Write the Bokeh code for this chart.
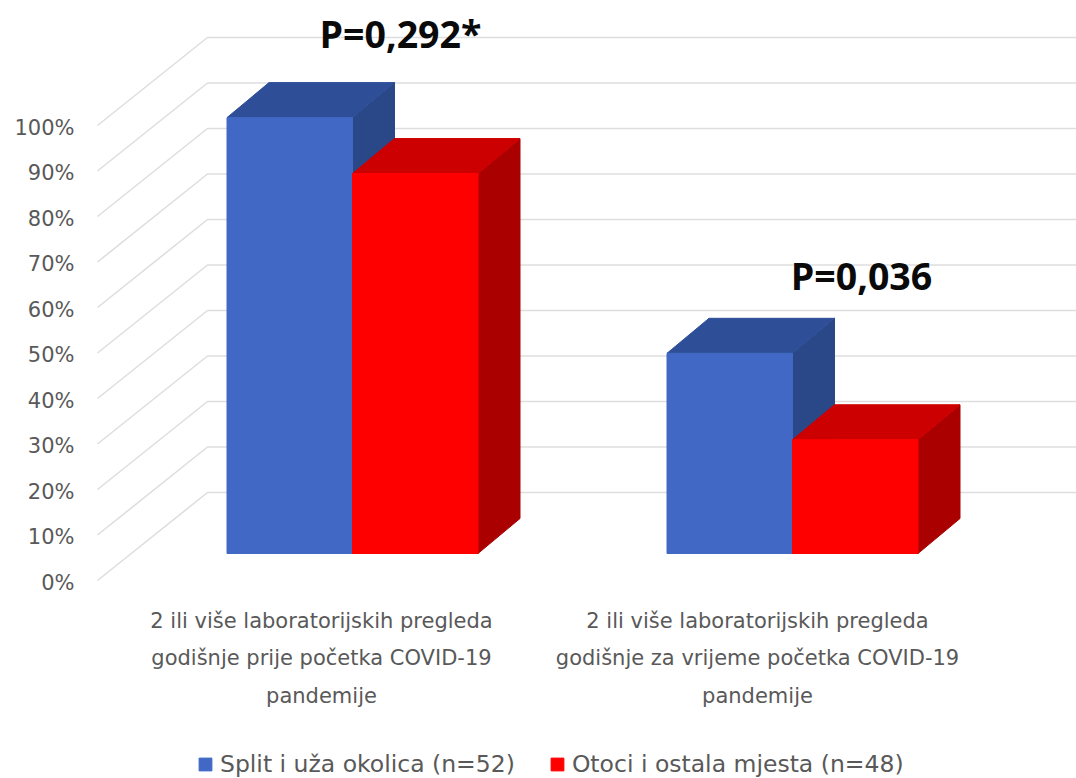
from bokeh.plotting import figure
from bokeh.models import FixedTicker, Range1d, Legend, LegendItem, ColumnDataSource
from bokeh.core.properties import value
from bokeh.embed import file_html
from bokeh.resources import INLINE

# ---- data
categories = [
    "2 ili više laboratorijskih pregleda\ngodišnje prije početka COVID-19\npandemije",
    "2 ili više laboratorijskih pregleda\ngodišnje za vrijeme početka COVID-19\npandemije",
]
series_names = ["Split i uža okolica (n=52)", "Otoci i ostala mjesta (n=48)"]
split_values = [95.8, 44.0]
otoci_values = [83.5, 25.0]
p_labels = ["P=0,292*", "P=0,036"]
tick_values = list(range(0, 101, 10))
tick_labels = [f"{t}%" for t in tick_values]

# ---- layout (one x unit = 440 px, one y unit = 4.55 px)
W, H = 1076, 778
LEFT = 90
PX, PY = 440.0, 4.55
X0_PAGE, Y0_PAGE = 352.0, 582.0
def xu(px): return px / PX
def yu(px): return px / PY

BAR_W = xu(125.5)
DX, DY = xu(42), yu(35)
BASE = yu(29)                 # floor level of the bar front
WALL_DX, WALL_DY = xu(110), yu(88)
GRID_X0 = xu(97 - X0_PAGE)
GRID_LIFT = yu(2)

BLUE, BLUE_TOP, BLUE_SIDE = "#4068C4", "#2E4F98", "#2A4888"
RED, RED_TOP, RED_SIDE = "#FF0000", "#CC0000", "#AA0000"
TEXT = "#595959"
FONT = "DejaVu Sans"

p = figure(width=W, height=H, output_backend="svg", toolbar_location=None,
           x_range=Range1d((LEFT - X0_PAGE) / PX, (W - X0_PAGE) / PX),
           y_range=Range1d((Y0_PAGE - H) / PY, Y0_PAGE / PY),
           min_border_left=LEFT, min_border_right=0, min_border_top=0, min_border_bottom=0)
p.outline_line_color = None
p.xgrid.visible = False
p.ygrid.visible = False
p.xaxis.visible = False
ax = p.yaxis[0]
ax.ticker = FixedTicker(ticks=tick_values)
ax.major_label_overrides = {t: l for t, l in zip(tick_values, tick_labels)}
ax.axis_line_color = None
ax.major_tick_line_color = None
ax.minor_tick_line_color = None
ax.major_label_text_font = FONT
ax.major_label_text_font_size = "21px"
ax.major_label_text_color = TEXT
ax.major_label_standoff = 10

# gridlines: floor diagonal, then back wall
for t in tick_values:
    y = t + GRID_LIFT
    p.line([GRID_X0, GRID_X0 + WALL_DX, (W - X0_PAGE) / PX],
           [y, y + WALL_DY, y + WALL_DY], line_color="#DEDEDE", line_width=1.6)

def box(x_left, vals, front, top, side):
    lefts = [i + x_left for i in range(len(vals))]
    rights = [l + BAR_W for l in lefts]
    tops = [v + BASE for v in vals]
    src = ColumnDataSource(dict(l=lefts, r=rights, t=tops, b=[BASE] * len(vals)))
    p.patches([[r, r + DX, r + DX, r] for r in rights],
              [[BASE, BASE + DY, t + DY, t] for t in tops],
              fill_color=side, line_color=side)
    p.patches([[l, l + DX, r + DX, r] for l, r in zip(lefts, rights)],
              [[t, t + DY, t + DY, t] for t in tops],
              fill_color=top, line_color=top)
    return p.quad(left="l", right="r", top="t", bottom="b", source=src,
                  fill_color=front, line_color=front)

r_blue = box(-BAR_W, split_values, BLUE, BLUE_TOP, BLUE_SIDE)
r_red = box(0, otoci_values, RED, RED_TOP, RED_SIDE)

# P labels
p.text(x=[xu(400 - X0_PAGE), xu(861 - X0_PAGE)],
       y=[yu(Y0_PAGE - 33), yu(Y0_PAGE - 275)],
       text=p_labels, text_font=value("Open Sans"), text_font_style="bold",
       text_font_size="37.5px", text_color="#0A0A0A", text_align="center", text_baseline="middle")

# category labels
p.text(x=[xu(321 - X0_PAGE), xu(757 - X0_PAGE)], y=[yu(Y0_PAGE - 658)] * 2,
       text=categories, text_font=value(FONT), text_font_size="21px", text_color=TEXT,
       text_align="center", text_baseline="middle", text_line_height=1.55)

legend = Legend(items=[LegendItem(label=series_names[0], renderers=[r_blue]),
                       LegendItem(label=series_names[1], renderers=[r_red])],
                orientation="horizontal", location=(107, 0),
                border_line_color=None, background_fill_alpha=0,
                glyph_width=16, glyph_height=16, label_standoff=7, spacing=34,
                label_text_font=FONT, label_text_font_size="23.5px",
                label_text_color=TEXT, margin=0, padding=0)
p.add_layout(legend, "center")

open("out.html", "w").write(file_html(p, INLINE))
